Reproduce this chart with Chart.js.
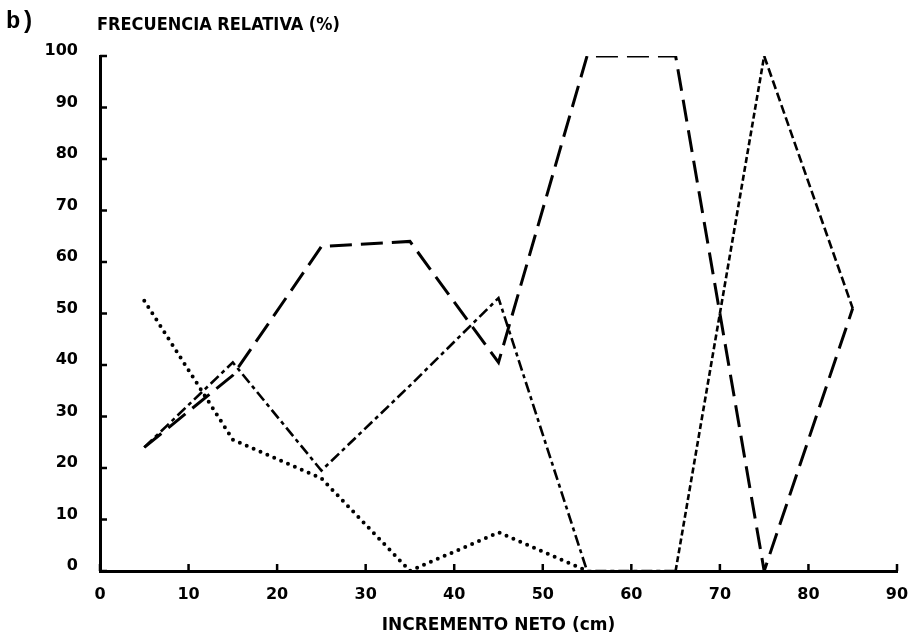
<!DOCTYPE html>
<html>
<head>
<meta charset="utf-8">
<title>Frecuencia relativa</title>
<script src="https://cdn.jsdelivr.net/npm/chart.js@4.4.1/dist/chart.umd.min.js"></script>
<style>
  body { margin: 0; background: #ffffff; }
  canvas { display: block; }
</style>
</head>
<body>
<canvas id="myChart" width="923" height="636"></canvas>
<script>
// class midpoints (cm)
const xDotted = [5, 15, 25, 35, 45, 55];
const yDotted = [52.5, 25.5, 18, 0, 7.5, 0];

const xDashDot = [5, 15, 25, 35, 45, 55, 65, 75, 85];
const yDashDot = [24, 40.5, 19.5, 36, 53, 0, 0, 100, 51];

const xLongDash = [5, 15, 25, 35, 45, 55, 65, 75, 85];
const yLongDash = [24, 38, 63, 64, 40.5, 100, 100, 0, 51];

const xTicks = [0, 10, 20, 30, 40, 50, 60, 70, 80, 90];
const yTicks = [0, 10, 20, 30, 40, 50, 60, 70, 80, 90, 100];

const toPoints = (xs, ys) => xs.map((x, i) => ({ x: x, y: ys[i] }));

const tickFont = { family: 'DejaVu Sans', weight: 'bold', size: 16 };

// inward tick marks + the "b)" and y title texts
const extras = {
  id: 'extras',
  afterDraw(chart) {
    const ctx = chart.ctx;
    const xs = chart.scales.x;
    const ys = chart.scales.y;
    ctx.save();
    ctx.strokeStyle = '#000';
    ctx.lineWidth = 2.5;
    ctx.beginPath();
    yTicks.forEach(v => {
      const py = ys.getPixelForValue(v);
      ctx.moveTo(xs.left, py);
      ctx.lineTo(xs.left + 7, py);
    });
    xTicks.forEach(v => {
      const px = xs.getPixelForValue(v);
      ctx.moveTo(px, ys.bottom);
      ctx.lineTo(px, ys.bottom - 7);
    });
    ctx.stroke();

    ctx.fillStyle = '#000';
    ctx.textBaseline = 'middle';
    ctx.textAlign = 'left';
    ctx.font = 'bold 24px "Liberation Mono"';
    ctx.fillText('b)', 6, 22);
    ctx.font = 'bold 18px "DejaVu Sans Condensed", "DejaVu Sans"';
    ctx.fillText('FRECUENCIA RELATIVA (%)', 97, 25);
    ctx.restore();
  }
};

const data = {
  datasets: [{
    label: 'punteada',
    data: toPoints(xDotted, yDotted),
    borderColor: '#000',
    borderWidth: 4,
    borderDash: [0, 7.5],
    borderCapStyle: 'round',
    pointRadius: 0,
    tension: 0
  }, {
    label: 'trazo y punto',
    data: toPoints(xDashDot, yDashDot),
    borderColor: '#000',
    borderWidth: 2.6,
    borderDash: [11, 4, 4, 4],
    pointRadius: 0,
    tension: 0,
    segment: {
      borderDash: c => c.p0DataIndex === 6 ? [6, 3] : (c.p0DataIndex === 7 ? [9, 4] : [11, 4, 4, 4])
    }
  }, {
    label: 'trazo largo',
    data: toPoints(xLongDash, yLongDash),
    borderColor: '#000',
    borderWidth: 3,
    borderDash: [22, 9],
    pointRadius: 0,
    tension: 0
  }]
};

const config = {
  type: 'line',
  data: data,
  options: {
    responsive: false,
    animation: false,
    devicePixelRatio: 1,
    layout: { padding: { top: 56, right: 26, left: 0, bottom: 0 } },
    plugins: {
      legend: { display: false },
      tooltip: { enabled: false }
    },
    scales: {
      x: {
        type: 'linear',
        min: 0,
        max: 90,
        afterFit: s => { s.height = 65; },
        afterBuildTicks: s => { s.ticks = xTicks.map(v => ({ value: v })); },
        grid: { display: false, drawTicks: false },
        border: { display: true, color: '#000', width: 3 },
        ticks: { color: '#000', font: tickFont, padding: 14, maxRotation: 0 },
        title: {
          display: true,
          text: 'INCREMENTO NETO (cm)',
          color: '#000',
          font: { family: 'DejaVu Sans', weight: 'bold', size: 17 },
          padding: { top: 2, bottom: 0 }
        }
      },
      y: {
        type: 'linear',
        min: 0,
        max: 100,
        afterFit: s => { s.width = 100; },
        afterBuildTicks: s => { s.ticks = yTicks.map(v => ({ value: v })); },
        grid: { display: false, drawTicks: false },
        border: { display: true, color: '#000', width: 3 },
        ticks: { color: '#000', font: tickFont, padding: 22, labelOffset: -5 }
      }
    }
  },
  plugins: [extras]
};

const myChart = new Chart(document.getElementById('myChart'), config);
</script>
</body>
</html>
